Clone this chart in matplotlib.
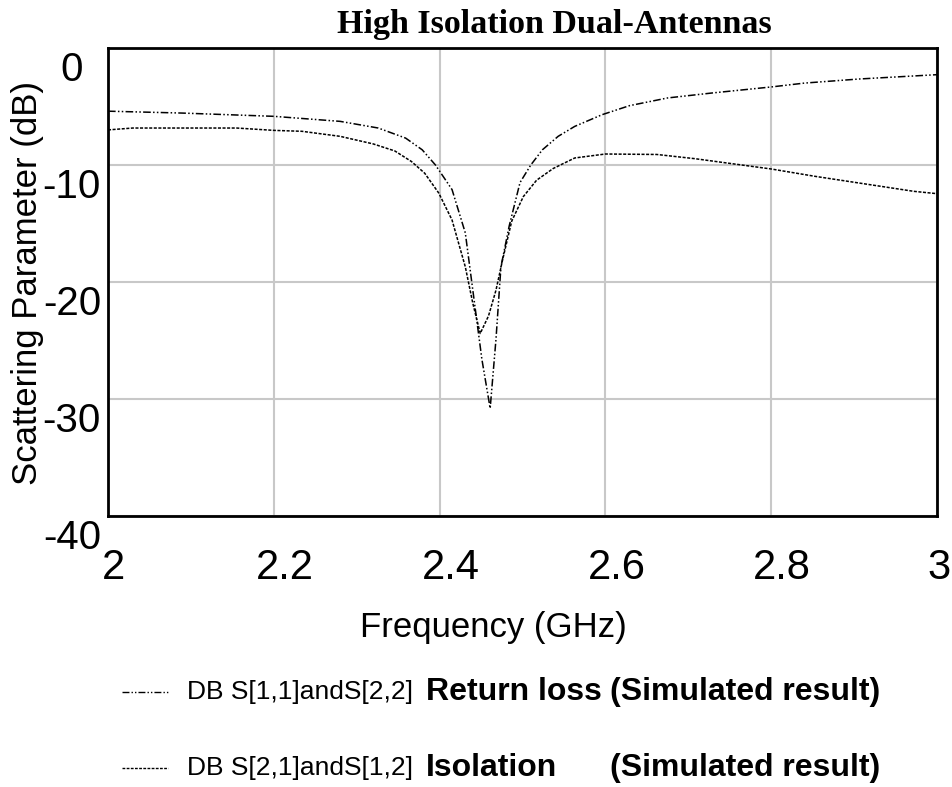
import matplotlib
matplotlib.use("Agg")
import matplotlib.pyplot as plt
from matplotlib.lines import Line2D
from matplotlib.transforms import ScaledTranslation

# Return loss S11/S22 (dB)
rl_freq = [2.0, 2.089, 2.2, 2.28, 2.326, 2.359, 2.379, 2.395, 2.415, 2.431, 2.441, 2.451,
           2.461, 2.468, 2.474, 2.484, 2.497, 2.51, 2.524, 2.543, 2.563, 2.596, 2.629,
           2.675, 2.728, 2.8, 2.84, 2.906, 3.0]
rl_db = [-5.4, -5.56, -5.84, -6.27, -6.84, -7.7, -8.7, -10.0, -12.1, -15.8, -21.2, -26.6,
         -30.8, -24.9, -18.7, -15.2, -11.5, -10.0, -8.7, -7.55, -6.7, -5.7, -4.93,
         -4.27, -3.85, -3.33, -3.0, -2.65, -2.28]

# Isolation S21/S12 (dB)
iso_freq = [2.0, 2.03, 2.155, 2.2, 2.234, 2.28, 2.32, 2.346, 2.366, 2.382, 2.399, 2.415,
            2.431, 2.44, 2.449, 2.459, 2.468, 2.476, 2.487, 2.501, 2.517, 2.537, 2.563,
            2.6, 2.662, 2.708, 2.8, 2.853, 2.919, 2.972, 3.0]
iso_db = [-7.0, -6.84, -6.84, -7.04, -7.12, -7.55, -8.2, -8.8, -9.7, -10.7, -12.4, -14.7,
          -18.7, -21.8, -24.4, -22.9, -20.7, -18.1, -14.8, -12.7, -11.3, -10.3, -9.4,
          -9.06, -9.1, -9.46, -10.34, -10.97, -11.68, -12.25, -12.45]

x_ticks = [2, 2.2, 2.4, 2.6, 2.8, 3]
x_tick_labels = ["2", "2.2", "2.4", "2.6", "2.8", "3"]
y_ticks = [0, -10, -20, -30, -40]
y_tick_labels = ["0", "-10", "-20", "-30", "-40"]

title = "High Isolation Dual-Antennas"
xlabel = "Frequency (GHz)"
ylabel = "Scattering Parameter (dB)"
legend_codes = ["DB S[1,1]andS[2,2]", "DB S[2,1]andS[1,2]"]
legend_names = ["Return loss", "Isolation"]
legend_note = "(Simulated result)"

rl_style = (0, (5, 1.5, 1, 1.5, 1, 1.5))
iso_style = (0, (2, 1))

W, H = 953, 787
fig = plt.figure(figsize=(W / 100, H / 100), dpi=100)
plt.rcParams['font.family'] = ['Liberation Sans', 'DejaVu Sans']
ax = fig.add_axes([108 / W, 1 - 516 / H, (937 - 108) / W, (516 - 48) / H])

ax.plot(rl_freq, rl_db, color="black", lw=1.1, linestyle=rl_style)
ax.plot(iso_freq, iso_db, color="black", lw=1.1, linestyle=iso_style)

ax.set_xlim(2, 3)
ax.set_ylim(-40, 0)
ax.set_xticks(x_ticks)
ax.set_xticklabels(x_tick_labels, fontsize=30)
ax.set_yticks(y_ticks)
ax.set_yticklabels(y_tick_labels, fontsize=29, ha="center")
ax.tick_params(axis="x", length=0, pad=23)
ax.tick_params(axis="y", length=0, pad=26)
ax.grid(True, color="#c8c8c8", lw=1.5)
ax.set_axisbelow(True)
for s in ax.spines.values():
    s.set_linewidth(2)
    s.set_color("black")

for lbl in ax.get_yticklabels():
    lbl.set_transform(lbl.get_transform() + ScaledTranslation(0, -18 / 100, fig.dpi_scale_trans))
x_shift_px = [6, 11, 11, 11, 11, 2]
for lbl, dx in zip(ax.get_xticklabels(), x_shift_px):
    lbl.set_transform(lbl.get_transform() + ScaledTranslation(dx / 100, 0, fig.dpi_scale_trans))

fig.text(554 / W, 1 - 25 / H, title, ha="center", va="center", fontsize=24.5,
         fontweight="bold", family=["Liberation Serif", "DejaVu Serif"])
fig.text(493 / W, 1 - 628 / H, xlabel, ha="center", va="center", fontsize=25)
fig.text(28 / W, 1 - 283 / H, ylabel, ha="center", va="center", fontsize=25, rotation=90)

legend_y = [692, 768]
for i, (code, name, style) in enumerate(zip(legend_codes, legend_names, [rl_style, iso_style])):
    fy = 1 - legend_y[i] / H
    fig.add_artist(Line2D([122 / W, 168 / W], [fy, fy], color="black", lw=1.0,
                          linestyle=style, transform=fig.transFigure))
    fig.text(187 / W, fy, code, ha="left", va="center", fontsize=19)
    fig.text(426 / W, fy, name, ha="left", va="center", fontsize=23, fontweight="bold")
    fig.text(880 / W, fy, legend_note, ha="right", va="center", fontsize=23, fontweight="bold")

fig.savefig("out.png", dpi=100, facecolor="white")
